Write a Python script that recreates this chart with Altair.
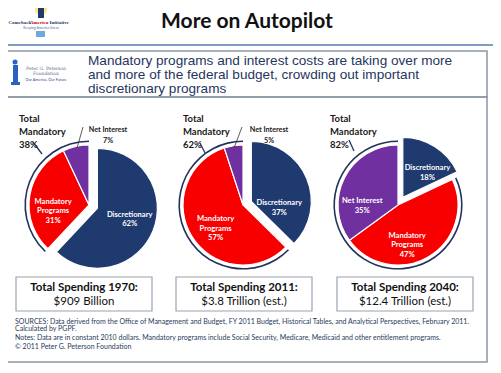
import math
import altair as alt
import pandas as pd

# ---------------- data ----------------
years = ["1970", "2011", "2040"]
categories = ["Discretionary", "Mandatory Programs", "Net Interest"]
discretionary = [62, 37, 18]
mandatory_programs = [31, 57, 47]
net_interest = [7, 5, 35]
total_mandatory = [38, 62, 82]
spending = ["$909 Billion", "$3.8 Trillion (est.)", "$12.4 Trillion (est.)"]
cat_labels = ["Discretionary", "Mandatory\nPrograms", "Net Interest"]

title = "More on Autopilot"
subtitle_lines = [
    "Mandatory programs and interest costs are taking over more",
    "and more of the federal budget, crowding out important",
    "discretionary programs",
]
footnotes = [
    "SOURCES: Data derived from the Office of Management and Budget, FY 2011 Budget, Historical Tables, and Analytical Perspectives, February 2011.",
    "Calculated by PGPF.",
    "Notes: Data are in constant 2010 dollars. Mandatory programs include Social Security, Medicare, Medicaid and other entitlement programs.",
    "\u00a9 2011 Peter G. Peterson Foundation",
]

COLORS = ["#1E3A6E", "#F80000", "#7030A0"]
NAVY = "#22335A"

# ---------------- build pie table ----------------
rows = []
for i, yr in enumerate(years):
    vals = [discretionary[i], mandatory_programs[i], net_interest[i]]
    tot = sum(vals)
    cum = 0
    for c, lab, v in zip(categories, cat_labels, vals):
        s = cum / tot
        cum += v
        e = cum / tot
        rows.append(dict(year=yr, cat=c, value=v, start=s, end=e, mid=(s + e) / 2,
                         label=f"{lab}\n{v}%"))
pie_df = pd.DataFrame(rows)

W, H = 485, 357


def px(x):
    return x - 8


def py(y):
    return y - 8


one = pd.DataFrame({"a": [0]})
layers = []


def text(s, x, y, size, color="#000000", weight="normal", align="left",
         font="Lato", baseline="middle", lh=None, style="normal"):
    kw = dict(align=align, baseline=baseline, fontSize=size, font=font,
              fontWeight=weight, color=color, lineBreak="\n", fontStyle=style)
    if lh:
        kw["lineHeight"] = lh
    layers.append(alt.Chart(pd.DataFrame({"t": [s]})).mark_text(**kw).encode(
        x=alt.value(px(x)), y=alt.value(py(y)), text="t:N"))


def rect(x1, y1, x2, y2, fill=None, stroke=None, sw=1.0):
    kw = {}
    if fill:
        kw["fill"] = fill
    else:
        kw["fillOpacity"] = 0
    if stroke:
        kw["stroke"] = stroke
        kw["strokeWidth"] = sw
    layers.append(alt.Chart(one).mark_rect(**kw).encode(
        x=alt.value(px(x1)), x2=alt.value(px(x2)),
        y=alt.value(py(y1)), y2=alt.value(py(y2))))


def rule(x1, y1, x2, y2, color, sw=1.0):
    layers.append(alt.Chart(one).mark_rule(color=color, strokeWidth=sw).encode(
        x=alt.value(px(x1)), x2=alt.value(px(x2)),
        y=alt.value(py(y1)), y2=alt.value(py(y2))))


def dot(x, y, size, color, opacity=1.0):
    layers.append(alt.Chart(one).mark_circle(size=size, color=color, opacity=opacity).encode(
        x=alt.value(px(x)), y=alt.value(py(y))))


# ---------------- slide frame ----------------
rect(0, 0, 501, 373, fill="#FFFFFF")
rule(0, 45, 493, 45, "#7F9FC0", 2)
rect(6, 51, 487, 97, stroke="#8C96A6", sw=1.5)
rect(6, 97, 487, 362, stroke="#8C96A6", sw=1.5)

# logo (Comeback America Initiative)
dot(41, 9, 160, "#FBE58A", 0.9)
rect(38, 8, 44, 18, fill="#1F3A6E")
dot(41, 8, 30, "#1F3A6E")
text("Comeback", 8.5, 22, 5.0, color="#1F3A6E", weight="bold", font="Liberation Serif")
text("America", 30, 22, 5.0, color="#C00000", weight="bold", font="Liberation Serif")
text("Initiative", 49.5, 22, 5.0, color="#1F3A6E", weight="bold", font="Liberation Serif")
text("Keeping America Great", 41, 28, 3.5, color="#4F6F9F", align="center")
rect(36, 31, 45, 37, fill="#6FA8DC")

# title
text(title, 247, 22, 21, color="#111111", weight="bold", align="center")

# Peterson foundation logo
dot(15, 62, 25, "#2A62C0")
rect(13, 65, 18, 82, fill="#2A62C0")
rect(11, 82, 20, 85, fill="#2A62C0")
text("Peter G. Peterson", 46, 69, 4.5, color="#5A6A8A", align="center", font="DejaVu Serif")
text("Foundation", 46, 74, 4.5, color="#5A6A8A", align="center", font="DejaVu Serif")
text("Our America, Our Future", 46, 80, 3.8, color="#2A4A8A", align="center")

# subtitle
for k, line in enumerate(subtitle_lines):
    text(line, 88, 61 + k * 14.2, 13.6, color="#1F3660", font="Liberation Sans")

# ---------------- pies ----------------
theta_scale = alt.Scale(domain=[0, 1], range=[0, 2 * math.pi])
color_scale = alt.Scale(domain=categories, range=COLORS)
R = 60
centers = [(89, 205), (243, 205), (398, 205)]
explode = 9
mand_label_pos = [(19, 119), (183, 119), (330, 119)]
ni_label_pos = [(108, 130), (269, 130)]
mand_leaders = [((33, 142), (42, 154)), ((200, 143), (205, 153)), ((349, 140), (354, 151))]
ni_leaders = [((83, 127), (77, 148)), ((242, 127), (234, 148))]
# label placement (radius px, angular nudge degrees) for slice labels
label_place = {
    ("1970", "Discretionary"): (33, -10), ("1970", "Mandatory Programs"): (36, -4),
    ("2011", "Discretionary"): (28, 26), ("2011", "Mandatory Programs"): (31, 4),
    ("2040", "Discretionary"): (38, 8), ("2040", "Mandatory Programs"): (32, 14),
    ("2040", "Net Interest"): (36, -21),
}

for i, yr in enumerate(years):
    cx, cy = centers[i]
    base = alt.Chart(pie_df).transform_filter(alt.datum.year == yr)
    sub = pie_df[pie_df.year == yr]
    dmid = float(sub[sub.cat == "Discretionary"]["mid"].iloc[0])
    dend = float(sub[sub.cat == "Discretionary"]["end"].iloc[0])
    ang = dmid * 2 * math.pi
    dx, dy = explode * math.sin(ang), -explode * math.cos(ang)

    # bracket around total mandatory
    br = pd.DataFrame({"start": [dend], "end": [1.0]})
    layers.append(alt.Chart(br).mark_arc(innerRadius=R + 3, outerRadius=R + 4.6, color=NAVY).encode(
        theta=alt.Theta("start:Q", scale=theta_scale, stack=None), theta2="end:Q",
        x=alt.value(px(cx)), y=alt.value(py(cy))))

    enc = dict(theta=alt.Theta("start:Q", scale=theta_scale, stack=None), theta2="end:Q",
               color=alt.Color("cat:N", scale=color_scale, legend=None))
    layers.append(base.transform_filter(alt.datum.cat != "Discretionary").mark_arc(
        outerRadius=R, stroke="white", strokeWidth=1.2).encode(
        x=alt.value(px(cx)), y=alt.value(py(cy)), **enc))
    layers.append(base.transform_filter(alt.datum.cat == "Discretionary").mark_arc(
        outerRadius=R, stroke="white", strokeWidth=1.2).encode(
        x=alt.value(px(cx + dx)), y=alt.value(py(cy + dy)), **enc))

    for cat in categories:
        key = (yr, cat)
        if key not in label_place:
            continue
        rad, nudge = label_place[key]
        ox, oy = (cx + dx, cy + dy) if cat == "Discretionary" else (cx, cy)
        layers.append(
            base.transform_filter(alt.datum.cat == cat)
            .mark_text(fontSize=7.6, fontWeight="bold", color="white", font="Lato",
                       lineBreak="\n", lineHeight=9.5, align="center", baseline="middle",
                       thetaOffset=math.radians(nudge))
            .encode(theta=alt.Theta("mid:Q", scale=theta_scale, stack=None),
                    radius=alt.value(rad), text="label:N",
                    x=alt.value(px(ox)), y=alt.value(py(oy))))

    # Total Mandatory label
    lx, ly = mand_label_pos[i]
    text(f"Total\nMandatory\n{total_mandatory[i]}%", lx, ly, 9.5, color="#1A1A1A",
         weight="bold", lh=13)
    (a, b) = mand_leaders[i]
    rule(a[0], a[1], b[0], b[1], NAVY, 1.3)

    if i < 2:
        nx, ny = ni_label_pos[i]
        text(f"Net Interest\n{net_interest[i]}%", nx, ny, 7.2, color="#1A1A1A",
             weight="bold", align="center", lh=11)
        (a, b) = ni_leaders[i]
        rule(a[0], a[1], b[0], b[1], "#333333", 0.8)

# ---------------- total spending boxes ----------------
boxes = [(16, 152), (176, 312), (337, 473)]
for i, yr in enumerate(years):
    x1, x2 = boxes[i]
    rect(x1, 277, x2, 311, stroke="#9AA3B2", sw=1.2)
    xc = (x1 + x2) / 2
    text(f"Total Spending {yr}:", xc, 288, 11.5, color="#111111", weight="bold", align="center")
    text(spending[i], xc, 301.5, 11.5, color="#111111", align="center")

# ---------------- footnotes ----------------
for k, (line, yy) in enumerate(zip(footnotes, [322, 329, 337.5, 346.5])):
    text(line, 15, yy, 7.0, color="#2A3A5A")

chart = alt.layer(*layers).properties(
    width=W, height=H, autosize=alt.AutoSizeParams(type="none"), padding=0
).configure_view(stroke=None)

chart.save("out.html", embed_options={"renderer": "svg", "actions": False})
